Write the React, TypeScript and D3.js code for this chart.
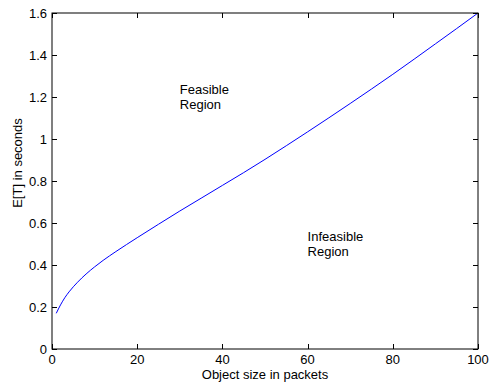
import React, { useEffect, useRef } from "react";
import * as d3 from "d3";

const packets = [1, 2, 3, 4, 6, 8, 10, 12, 15, 20, 25, 30, 35, 40, 45, 50, 55, 60, 65, 70, 75, 80, 85, 90, 95, 100];
const delay = [0.17, 0.21, 0.244, 0.272, 0.318, 0.357, 0.391, 0.422, 0.464, 0.53, 0.594, 0.657, 0.718, 0.779, 0.84, 0.903, 0.968, 1.034, 1.101, 1.169, 1.238, 1.308, 1.38, 1.453, 1.526, 1.6];
const xTicks = [0, 20, 40, 60, 80, 100];
const yTicks = [0, 0.2, 0.4, 0.6, 0.8, 1, 1.2, 1.4, 1.6];
const annotations = [
  { x: 30, y: 1.22, lines: ["Feasible", "Region"] },
  { x: 60, y: 0.52, lines: ["Infeasible", "Region"] },
];

const W = 490, H = 385;
const L = 52, R = 478, T = 13, B = 349;
const FONT = "'Liberation Sans', Arial, sans-serif";

export default function App() {
  const ref = useRef<SVGSVGElement>(null);
  useEffect(() => {
    const svg = d3.select(ref.current);
    svg.selectAll("*").remove();
    const x = d3.scaleLinear().domain([0, 100]).range([L, R]);
    const y = d3.scaleLinear().domain([0, 1.6]).range([B, T]);

    svg.append("rect").attr("width", W).attr("height", H).attr("fill", "#fff");

    const line = d3.line<number>().x((_, i) => x(packets[i])).y((d) => y(d)).curve(d3.curveMonotoneX);
    svg.append("path").datum(delay).attr("d", line).attr("fill", "none")
      .attr("stroke", "#0000ff").attr("stroke-width", 1);

    const g = svg.append("g");
    g.append("rect").attr("x", L).attr("y", T).attr("width", R - L).attr("height", B - T)
      .attr("fill", "none").attr("stroke", "#000").attr("stroke-width", 1);
    const tl = 5;
    xTicks.forEach((t) => {
      const px = Math.round(x(t)) + 0.5;
      g.append("line").attr("x1", px).attr("x2", px).attr("y1", B).attr("y2", B - tl).attr("stroke", "#000");
      g.append("line").attr("x1", px).attr("x2", px).attr("y1", T).attr("y2", T + tl).attr("stroke", "#000");
      g.append("text").attr("x", x(t)).attr("y", B + 15).attr("text-anchor", "middle")
        .attr("font-family", FONT).attr("font-size", 13).text(String(t));
    });
    yTicks.forEach((t) => {
      const py = Math.round(y(t)) + 0.5;
      g.append("line").attr("x1", L).attr("x2", L + tl).attr("y1", py).attr("y2", py).attr("stroke", "#000");
      g.append("line").attr("x1", R).attr("x2", R - tl).attr("y1", py).attr("y2", py).attr("stroke", "#000");
      g.append("text").attr("x", L - 5).attr("y", y(t) + 5).attr("text-anchor", "end")
        .attr("font-family", FONT).attr("font-size", 13).text(String(t));
    });

    g.append("text").attr("x", (L + R) / 2).attr("y", 379).attr("text-anchor", "middle")
      .attr("font-family", FONT).attr("font-size", 13).text("Object size in packets");
    g.append("text").attr("transform", `translate(22,163) rotate(-90)`).attr("text-anchor", "middle")
      .attr("font-family", FONT).attr("font-size", 13).text("E[T] in seconds");

    annotations.forEach((a) => {
      const t = g.append("text").attr("font-family", FONT).attr("font-size", 13);
      a.lines.forEach((s, i) => {
        t.append("tspan").attr("x", x(a.x)).attr("y", y(a.y) + 1 + i * 15).text(s);
      });
    });
  }, []);
  return (
    <svg ref={ref} width={W} height={H} style={{ position: "absolute", left: 0, top: 0 }} />
  );
}
